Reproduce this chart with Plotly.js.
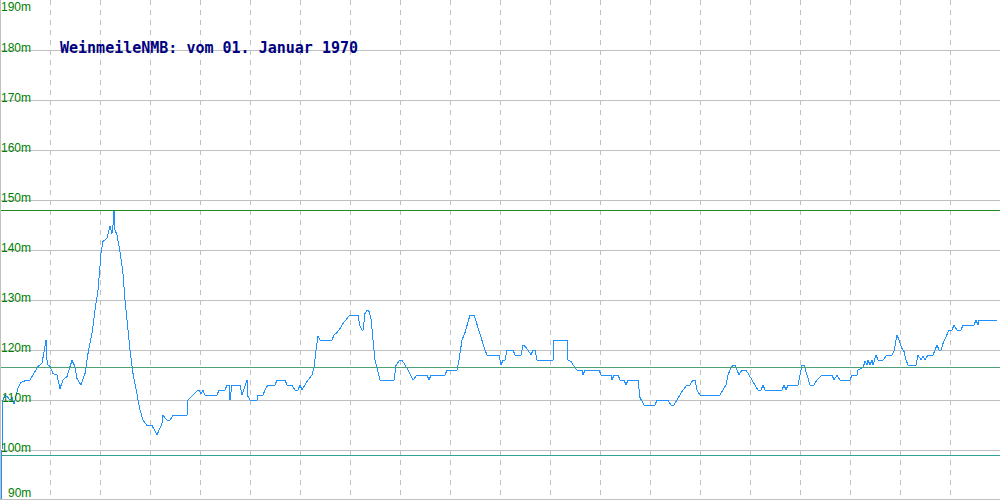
<!DOCTYPE html>
<html>
<head>
<meta charset="utf-8">
<script src="https://cdn.plot.ly/plotly-3.0.1.min.js"></script>
<style>
html,body{margin:0;padding:0;background:#fff;}
#chart{width:1000px;height:500px;}
#chart .scatterlayer path.js-line{shape-rendering:crispEdges;}
</style>
</head>
<body>
<div id="chart"></div>
<script>
const titleText = "WeinmeileNMB: vom 01. Januar 1970";
const tickValues = [90, 100, 110, 120, 130, 140, 150, 160, 170, 180, 190];
const tickLabels = ["90m", "100m", "110m", "120m", "130m", "140m", "150m", "160m", "170m", "180m", "190m"];
const refMax = 147.9;
const refMean = 116.5;
const refMin = 98.9;

const xPos = [1,2,3,5,7,10,12,14,16,18,21,23,27,30,33,35,38,42,44,46,47,48,50,53,57,60,63,67,70,72,75,77,81,85,88,92,95,98,100,101,103,107,110,112,113,114,115,116,117,120,123,125,127,130,133,137,140,143,147,152,154,157,159,162,163,167,170,173,185,187,188,192,193,197,199,201,203,205,217,219,225,227,229,230,232,240,242,245,247,248,250,257,258,263,265,268,275,277,285,287,292,295,298,300,302,305,308,312,314,316,318,320,332,334,337,340,343,347,350,358,360,362,363,365,367,369,371,373,375,377,380,394,396,398,400,402,405,408,413,417,427,429,431,445,447,457,459,462,465,468,470,474,478,482,485,487,499,501,503,505,507,513,515,521,523,525,528,531,533,535,537,553,554,567,568,571,573,577,582,583,585,599,601,611,612,614,618,620,624,626,628,638,640,644,655,657,668,671,674,677,680,683,687,690,693,695,697,700,720,723,726,728,730,733,735,737,739,742,746,749,752,755,758,761,763,765,782,784,786,788,798,800,802,804,807,810,814,817,822,832,834,837,840,850,852,857,858,863,865,867,868,870,872,873,876,878,883,887,892,894,896,897,899,902,904,906,908,916,918,921,923,925,928,933,935,937,939,941,943,947,949,952,954,957,961,963,974,976,978,979,997];
const heights = [90,102,110,111,110.7,110,110.5,109.2,111,112.4,113.5,113.7,114,114,115,115.5,116.7,117.3,119.3,122,118,117,116.7,115.3,115,112.3,114,114.7,116.7,117.9,116.7,114.3,113,115.3,119.3,123.3,128,132,136.7,139.3,141.7,142.3,144.8,143.3,145,148,144,143.3,143,139.7,135.3,130,125.3,120,115.3,110.7,108,106,104.9,104.9,104,103,104,105.3,106.9,106,106,106.9,106.9,107,110,110.9,111,111.8,111.9,111.2,111.9,111,111,112,112,113,113,110,113,113,111,113,114,110.7,110,110,111,111,112,113,113,114,114,113,113,112,112,113,112,113,114,115,116.5,120,122.8,122,122,123,123.5,124.3,125.3,126.3,127,127,124.8,124,124,127.3,128,127.7,126.3,122,118,116.4,114,114,116.9,117.5,118,118,117,116,114,115,115,114,115,115,116,116,118,122,123.5,125.7,127,127,124.3,121.5,120,119,119,117,118,118,120,120,119,119,121,120.7,120,119,120,120,118,118,122,122,118,117.7,117,116,116,115,116,116,115,115,114,115,115,114,114,113,114,114,110.5,109,109,110,110,109,109,110,111,112,113,113,114,114,112,111,111,112,113,115,116,117,117,116,115,116,116,115,114,113,112,112,113,112,112,113,112,113,113,115,117,117,115,113,113,114,115,115,114,115,114,114,115,115,116,116.5,117.7,117,118,117,118,117,119,118,118,119,119,119.7,122,123,122,120.3,119.7,118,117,117,119,118,118.7,118,119,119,120,121,120,120,121.3,123,124,124,125,124,124,125,125,126,125,126,126];

const tickFont = {family: "Liberation Sans, Arial, sans-serif", size: 12, color: "#008000"};

const annotations = tickValues.map((v, i) => {
  let shift = 2;
  if (i === 0) shift = 7;
  if (i === tickValues.length - 1) shift = -7;
  return {
    xref: "paper", yref: "y", x: 0, y: v,
    xanchor: "right", yanchor: "middle", xshift: 33, yshift: shift,
    text: tickLabels[i], showarrow: false, font: tickFont
  };
});

const shapes = [
  {type: "line", xref: "paper", yref: "y", x0: 0, x1: 1, y0: refMax, y1: refMax, line: {color: "#228b22", width: 1}},
  {type: "line", xref: "paper", yref: "y", x0: 0, x1: 1, y0: refMean, y1: refMean, line: {color: "#4f9f77", width: 1}},
  {type: "line", xref: "paper", yref: "y", x0: 0, x1: 1, y0: refMin, y1: refMin, line: {color: "#2fa393", width: 1}},
  {type: "line", xref: "paper", yref: "paper", x0: 0, x1: 0, y0: 0, y1: 1, line: {color: "#c0c0c0", width: 2}},
  {type: "line", xref: "paper", yref: "paper", x0: 0, x1: 1, y0: 0, y1: 0, line: {color: "#c0c0c0", width: 2}}
];

const trace = {
  x: xPos, y: heights, type: "scatter", mode: "lines",
  line: {color: "#1e90ff", width: 1}, hoverinfo: "skip"
};

const layout = {
  width: 1000, height: 500,
  margin: {l: 0, r: 0, t: 0, b: 0, pad: 0},
  paper_bgcolor: "#ffffff", plot_bgcolor: "#ffffff",
  showlegend: false,
  title: {
    text: "<b>" + titleText + "</b>",
    font: {family: "DejaVu Sans Mono, Liberation Mono, monospace", size: 15, color: "#000080"},
    xref: "paper", yref: "paper", x: 0.06, xanchor: "left", y: 0.904, yanchor: "middle"
  },
  xaxis: {
    range: [0, 1000], dtick: 50, tick0: 0, showgrid: true, gridcolor: "#c0c0c0",
    griddash: "5px,5px", gridwidth: 1, showticklabels: false, zeroline: false, showline: false, ticks: ""
  },
  yaxis: {
    range: [90, 190], dtick: 10, tick0: 90, showgrid: true, gridcolor: "#c0c0c0",
    gridwidth: 1, showticklabels: false, zeroline: false, showline: false, ticks: ""
  },
  annotations: annotations,
  shapes: shapes
};

Plotly.newPlot("chart", [trace], layout, {staticPlot: true, displayModeBar: false});
</script>
</body>
</html>
